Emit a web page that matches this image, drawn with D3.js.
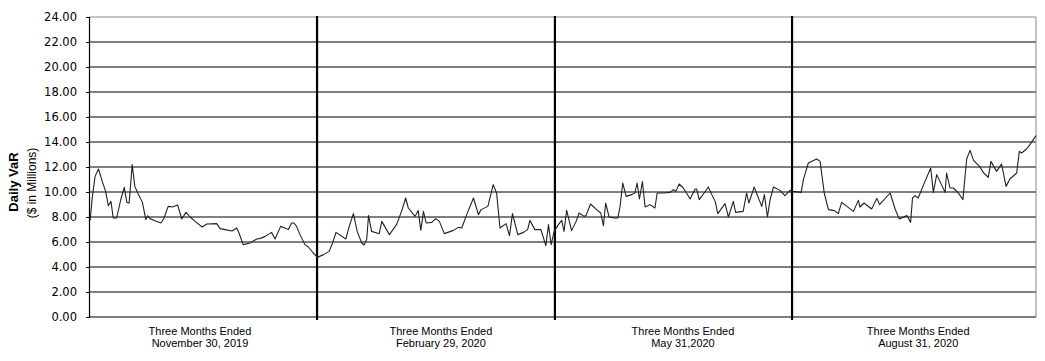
<!DOCTYPE html>
<html><head><meta charset="utf-8">
<script src="https://cdn.jsdelivr.net/npm/d3@7"></script>
<style>body{margin:0;background:#fff;}svg{display:block;}</style>
</head><body>
<svg id="c" width="1045" height="361"></svg>
<script>
// trading-day index and Daily VaR ($ in millions)
const days = [0.3,0.9,1.6,2.5,3.5,4.4,5.1,5.8,6.4,7.3,8.4,9.3,10.0,10.6,11.4,12.1,13.0,14.1,15.0,15.5,16.1,17.4,19.0,19.7,20.9,22.0,23.4,24.5,25.6,26.7,28.0,29.9,31.1,33.7,34.6,35.9,37.8,39.0,39.7,40.7,
42.5,44.3,45.3,46.5,48.2,49.1,50.6,51.7,52.6,53.5,54.1,54.8,55.7,57.0,57.9,59.2,60.3,61.9,63.4,64.3,65.2,67.8,68.7,69.8,70.8,72.0,72.6,73.3,73.8,74.6,76.0,76.6,77.3,79.3,81.2,
82.6,83.6,84.3,86.1,86.9,87.6,88.3,89.0,90.5,91.5,92.5,93.8,96.2,97.5,98.4,99.7,101.5,102.8,103.5,105.3,106.7,107.6,108.5,110.1,111.0,111.8,113.2,114.7,115.8,116.4,117.7,119.3,120.6,121.3,122.0,122.8,
123.9,124.8,125.4,126.1,127.4,128.6,129.4,130.7,131.2,132.4,134.0,135.1,135.8,136.4,137.3,138.6,139.6,140.2,140.9,141.8,143.3,144.1,144.7,145.3,146.1,146.8,148.1,149.4,150.0,151.6,153.4,154.3,154.9,155.8,156.9,158.7,160.0,160.4,161.1,162.4,163.5,
164.4,165.3,166.0,167.9,168.8,170.1,170.7,172.7,173.6,174.2,175.6,176.9,177.6,178.3,179.1,179.8,180.7,182.4,183.7,185.1,185.9,188.0,188.6,189.9,192.1,193.0,194.1,195.2,196.8,197.8,198.7,201.8,203.1,203.5,
204.6,206.6,208.0,208.7,211.5,212.8,213.9,215.9,216.3,216.9,217.4,218.1,218.9,220.7,222.2,222.9,223.8,226.0,226.4,227.3,228.2,229.5,230.7,231.7,232.6,233.5,235.1,236.2,237.4,238.1,239.6,240.9,242.1,243.1,244.9,245.6,246.2,247.5,248.4,250.0];
const varValues = [7.73,9.65,11.25,11.84,10.85,10.05,8.9,9.25,7.92,7.92,9.4,10.37,9.17,9.12,12.19,10.45,9.84,9.17,7.79,8.1,7.87,7.7,7.52,7.84,8.85,8.8,8.96,7.84,8.37,8.0,7.65,7.2,7.44,7.47,7.07,6.99,6.88,7.12,6.64,5.79,
5.92,6.24,6.29,6.45,6.77,6.24,7.25,7.12,6.99,7.52,7.52,7.25,6.59,5.79,5.6,5.12,4.77,4.99,5.25,5.92,6.77,6.24,7.25,8.27,6.85,5.92,5.76,6.19,8.11,6.85,6.72,6.67,7.65,6.59,7.39,
8.53,9.52,8.72,8.05,8.53,6.93,8.45,7.52,7.57,7.87,7.65,6.67,6.93,7.17,7.12,8.19,9.52,8.19,8.59,8.85,10.59,9.92,7.12,7.47,6.51,8.27,6.59,6.77,6.99,7.73,6.99,6.99,5.71,7.39,5.79,6.85,
7.39,7.73,6.85,8.53,6.91,7.65,8.32,8.05,8.11,9.04,8.59,8.32,7.31,9.12,8.0,7.92,7.92,8.85,10.72,9.65,9.79,9.92,10.72,9.44,10.83,8.8,8.99,8.72,9.92,9.92,9.97,10.19,10.05,10.64,10.32,9.44,10.24,10.24,9.39,9.92,10.4,
9.79,9.25,8.27,9.07,8.0,9.25,8.37,8.45,9.92,9.12,10.4,9.39,8.85,9.79,8.0,9.39,10.4,10.13,9.71,10.13,10.05,9.97,10.99,12.32,12.64,12.45,9.92,8.59,8.51,8.27,9.17,8.45,9.33,8.8,
9.12,8.64,9.49,8.99,9.92,8.64,7.84,8.11,7.92,7.57,9.52,9.71,9.52,10.85,11.92,9.97,11.39,9.97,11.52,10.32,10.32,9.92,9.39,12.64,13.33,12.53,12.05,11.52,11.17,12.45,11.65,12.24,10.45,11.04,11.52,13.25,13.12,13.44,13.79,14.51];
const quarterEndDays = [60.2, 123.0, 185.6];
const quarterLabelDays = [29.3, 92.9, 156.8, 218.9];
const quarterLabels = [["Three Months Ended","November 30, 2019"],["Three Months Ended","February 29, 2020"],["Three Months Ended","May 31,2020"],["Three Months Ended","August 31, 2020"]];
const yTicks = [0,2,4,6,8,10,12,14,16,18,20,22,24];

const svg = d3.select("#c");
const m = {l:89, r:1036, t:17, b:317};
const x = d3.scaleLinear().domain([0,250]).range([m.l, m.r]);
const y = d3.scaleLinear().domain([0,24]).range([m.b, m.t]);

// gridlines
svg.append("g").selectAll("line").data(yTicks.filter(v=>v>0 && v<24)).join("line")
  .attr("x1", m.l).attr("x2", m.r).attr("y1", d=>y(d)).attr("y2", d=>y(d))
  .attr("stroke","#000").attr("stroke-width",1.2);
// top and right border
svg.append("line").attr("x1",m.l).attr("x2",m.r).attr("y1",y(24)).attr("y2",y(24)).attr("stroke","#888").attr("stroke-width",1);
svg.append("line").attr("x1",m.r).attr("x2",m.r).attr("y1",m.t).attr("y2",m.b).attr("stroke","#888").attr("stroke-width",1);

// y axis
const ya = svg.append("g").attr("transform",`translate(${m.l},0)`)
  .call(d3.axisLeft(y).tickValues(yTicks).tickFormat(d3.format(".2f")).tickSize(3).tickPadding(9));
ya.select(".domain").attr("stroke","#000").attr("stroke-width",1.2);
ya.selectAll(".tick line").attr("stroke","#000");
ya.selectAll("text").attr("font-family","DejaVu Sans, Verdana, sans-serif").attr("font-size","11.5px").attr("fill","#000");

// x axis baseline
svg.append("line").attr("x1",m.l).attr("x2",m.r).attr("y1",m.b).attr("y2",m.b).attr("stroke","#000").attr("stroke-width",1.2);

// quarter separators
svg.append("g").selectAll("line").data(quarterEndDays).join("line")
  .attr("x1",d=>x(d)).attr("x2",d=>x(d)).attr("y1",m.t-1).attr("y2",m.b+3)
  .attr("stroke","#000").attr("stroke-width",2.2);

// line
const line = d3.line().x((d,i)=>x(days[i])).y(d=>y(d));
svg.append("path").datum(varValues).attr("d",line)
  .attr("fill","none").attr("stroke","#222").attr("stroke-width",1.1).attr("stroke-linejoin","round");

// quarter labels
const ql = svg.append("g").selectAll("text").data(quarterLabels).join("text")
  .attr("x",(d,i)=>x(quarterLabelDays[i])).attr("y",335)
  .attr("text-anchor","middle").attr("font-family","Liberation Sans, Arial, sans-serif").attr("font-size","11px").attr("fill","#000");
ql.append("tspan").attr("x",(d,i)=>x(quarterLabelDays[i])).attr("dy",0).text(d=>d[0]);
ql.append("tspan").attr("x",(d,i)=>x(quarterLabelDays[i])).attr("dy",12).text(d=>d[1]);

// y axis titles
svg.append("text").attr("transform",`translate(18,182) rotate(-90)`)
  .attr("text-anchor","middle").attr("font-family","Liberation Sans, Arial, sans-serif")
  .attr("font-weight","bold").attr("font-size","13px").attr("fill","#000").text("Daily VaR");
svg.append("text").attr("transform",`translate(36,183) rotate(-90)`)
  .attr("text-anchor","middle").attr("font-family","Liberation Sans, Arial, sans-serif")
  .attr("font-size","12px").attr("fill","#000").text("($ in Millions)");
</script>
</body></html>
